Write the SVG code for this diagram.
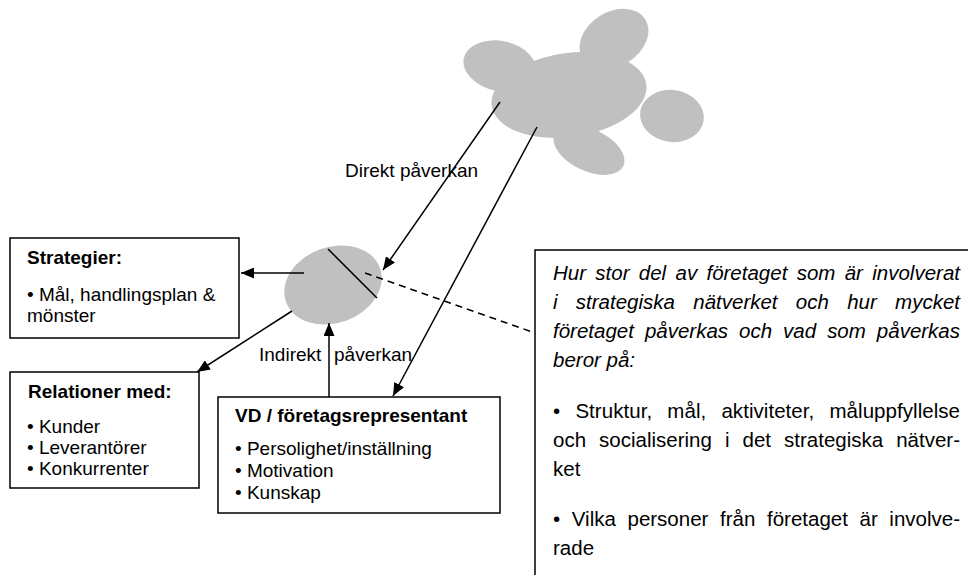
<svg xmlns="http://www.w3.org/2000/svg" width="968" height="575" viewBox="0 0 968 575">
<defs>
<style>
.box{fill:#fff;stroke:#000;stroke-width:1.5}
.blob{fill:#c0c0c0}
.ln{stroke:#000;stroke-width:1.5;fill:none}
.t{font-family:"Liberation Sans",Arial,sans-serif;font-size:19px;fill:#000}
.b{font-weight:bold}
.r{font-family:"Liberation Sans",Arial,sans-serif;font-size:20.5px;fill:#000}
.i{font-style:italic}
</style>
<marker id="ah" markerUnits="userSpaceOnUse" markerWidth="13" markerHeight="11" viewBox="0 0 13 11" refX="13" refY="5.5" orient="auto">
<path d="M0,0 L13,5.5 L0,11 z" fill="#000"/>
</marker>
</defs>
<g id="cloud">
<ellipse class="blob" cx="500" cy="66" rx="37" ry="25" transform="rotate(12 500 66)"/>
<ellipse class="blob" cx="614" cy="39" rx="37" ry="27" transform="rotate(-32 614 39)"/>
<ellipse class="blob" cx="672" cy="116" rx="32" ry="26" transform="rotate(8 672 116)"/>
<ellipse class="blob" cx="589" cy="150" rx="38" ry="21" transform="rotate(25 589 150)"/>
<ellipse class="blob" cx="569" cy="95" rx="78" ry="42" transform="rotate(-8 569 95)"/>
</g>
<g id="company">
<ellipse class="blob" cx="333" cy="285" rx="50" ry="38" transform="rotate(-20 333 285)"/>
<line class="ln" x1="328" y1="249" x2="377" y2="298"/>
</g>
<g id="connectors">
<line class="ln" x1="500" y1="102" x2="383" y2="270" marker-end="url(#ah)"/>
<line class="ln" x1="537" y1="127" x2="393" y2="396" marker-end="url(#ah)"/>
<line class="ln" x1="304" y1="273" x2="241" y2="273" marker-end="url(#ah)"/>
<line class="ln" x1="292" y1="311" x2="197" y2="372" marker-end="url(#ah)"/>
<line class="ln" x1="329" y1="397" x2="329" y2="323" marker-end="url(#ah)"/>
<line class="ln" x1="365" y1="273" x2="535" y2="333" stroke-dasharray="7,5"/>
</g>
<g id="labels">
<text class="t" x="345" y="177">Direkt påverkan</text>
<text class="t" y="361"><tspan x="259">Indirekt</tspan><tspan x="334">påverkan</tspan></text>
</g>
<g id="strategier">
<rect class="box" x="10" y="238" width="229" height="100"/>
<text class="t b" x="27" y="264">Strategier:</text>
<text class="t" x="27" y="301">• Mål, handlingsplan &amp;</text>
<text class="t" x="27" y="322">mönster</text>
</g>
<g id="relationer">
<rect class="box" x="10" y="372" width="189" height="116"/>
<text class="t b" x="28" y="398">Relationer med:</text>
<text class="t" x="27" y="433">• Kunder</text>
<text class="t" x="27" y="454">• Leverantörer</text>
<text class="t" x="27" y="475">• Konkurrenter</text>
</g>
<g id="vd">
<rect class="box" x="218" y="397" width="282" height="116"/>
<text class="t b" x="235" y="422">VD / företagsrepresentant</text>
<text class="t" x="235" y="455">• Persolighet/inställning</text>
<text class="t" x="235" y="477">• Motivation</text>
<text class="t" x="235" y="499">• Kunskap</text>
</g>
<g id="note">
<path class="ln" d="M968,250 H535 V575"/>
<text class="r i" x="553" y="280" word-spacing="3.6" textLength="407" lengthAdjust="spacing">Hur stor del av företaget som är involverat</text>
<text class="r i" x="553" y="309" word-spacing="12.6" textLength="407" lengthAdjust="spacing">i strategiska nätverket och hur mycket</text>
<text class="r i" x="553" y="338" word-spacing="5.3" textLength="407" lengthAdjust="spacing">företaget påverkas och vad som påverkas</text>
<text class="r i" x="553" y="367">beror på:</text>
<text class="r" x="553" y="418" word-spacing="9.4" textLength="407" lengthAdjust="spacing">• Struktur, mål, aktiviteter, måluppfyllelse</text>
<text class="r" x="553" y="447" word-spacing="7.3" textLength="407" lengthAdjust="spacing">och socialisering i det strategiska nätver-</text>
<text class="r" x="553" y="476">ket</text>
<text class="r" x="553" y="526" word-spacing="5.9" textLength="407" lengthAdjust="spacing">• Vilka personer från företaget är involve-</text>
<text class="r" x="553" y="555">rade</text>
</g>
</svg>
